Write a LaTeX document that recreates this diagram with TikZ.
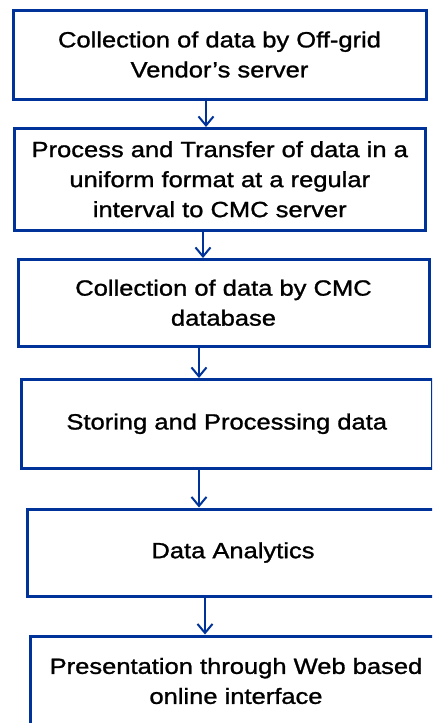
\documentclass[tikz,border=0pt]{standalone}
\usepackage{fontspec}
\setmainfont[FakeStretch=1.16,FakeBold=1.2]{Liberation Sans}
\usepackage{tikz}
\usetikzlibrary{
    arrows.meta,
    positioning
}
\definecolor{boxblue}{RGB}{0,51,153}
\tikzset{
    stepbox/.style={draw=boxblue, line width=3pt, rectangle, align=center,
        font=\fontsize{22}{30}\selectfont, inner sep=0pt},
    flow/.style={draw=boxblue, line width=2pt,
        -{Straight Barb[length=9pt,width=15pt,line width=2pt]}}
}

\begin{document}
\begin{tikzpicture}
                                \useasboundingbox (0,0) rectangle (432pt,-723pt);
                                \clip (0,0) rectangle (432pt,-723pt);

                                \node[stepbox, minimum width=413pt, minimum height=89pt] (collect) at (219.5pt,-54.5pt) {Collection of data by Off-grid\\Vendor’s server};
                                \node[stepbox, minimum width=410.5pt, minimum height=101.5pt] (transfer) at (219.75pt,-179.25pt) {Process and Transfer of data in a\\uniform format at a regular\\interval to CMC server};
                                \node[stepbox, minimum width=411pt, minimum height=86.5pt] (cmcdb) at (223.5pt,-302.75pt) {Collection of data by CMC\\database};
                                \node[stepbox, minimum width=411.5pt, minimum height=88.5pt] (store) at (226.75pt,-423.75pt) {Storing and Processing data};
                                \node[stepbox, minimum width=412pt, minimum height=87pt] (analytics) at (233pt,-552.5pt) {Data Analytics};
                                \node[stepbox, minimum width=412pt, minimum height=90pt] (present) at (236pt,-681pt) {Presentation through Web based\\online interface};

                                \coordinate (xa) at (206pt,0);
                                \coordinate (xb) at (203pt,0);
                                \coordinate (xc) at (199pt,0);
                                \coordinate (xd) at (199pt,0);
                                \coordinate (xe) at (205pt,0);

                                \draw[flow] (collect.south -| xa) -- (transfer.north -| xa);
                                \draw[flow] (transfer.south -| xb) -- (cmcdb.north -| xb);
                                \draw[flow] (cmcdb.south -| xc) -- (store.north -| xc);
                                \draw[flow] (store.south -| xd) -- (analytics.north -| xd);
                                \draw[flow] (analytics.south -| xe) -- (present.north -| xe);
                            \end{tikzpicture}
\end{document}
